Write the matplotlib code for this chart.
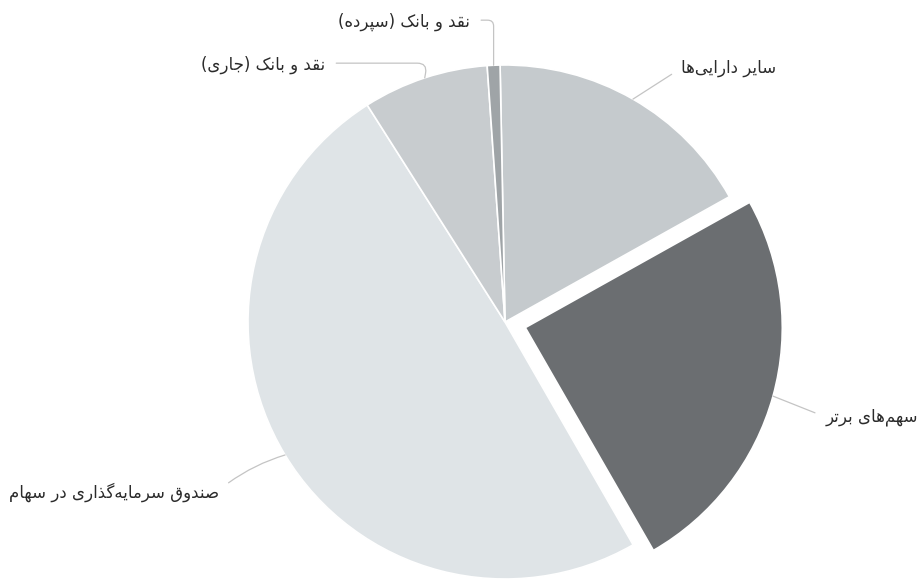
import numpy as np
import matplotlib
matplotlib.use('Agg')
import matplotlib.pyplot as plt

# slices, clockwise from the top
labels = ['سایر دارایی‌ها', 'سهم‌های برتر', 'صندوق سرمایه‌گذاری در سهام',
          'نقد و بانک (جاری)', 'نقد و بانک (سپرده)']
shares = [17.2, 24.8, 49.3, 7.9, 0.8]
colors = ['#c5cacd', '#6b6e71', '#dfe4e7', '#c8cccf', '#9fa4a7']
pulled = [0, 1, 0, 0, 0]

# label text anchors in pixels (x, y from top), alignment and leader line shapes
label_pos = [(729, 68), (918, 417), (9, 492), (263, 65), (404, 22)]
label_ha = ['center', 'right', 'left', 'center', 'center']
connectors = ['arc3,rad=0', 'arc3,rad=0', 'arc3,rad=-0.1',
              'angle,angleA=0,angleB=80,rad=10',
              'angle,angleA=0,angleB=90,rad=6']

# Arabic presentation forms: isolated, final, initial, medial
FORMS = {
    'ا': ('\uFE8D', '\uFE8E', None, None),
    'ب': ('\uFE8F', '\uFE90', '\uFE91', '\uFE92'),
    'پ': ('\uFB56', '\uFB57', '\uFB58', '\uFB59'),
    'ت': ('\uFE95', '\uFE96', '\uFE97', '\uFE98'),
    'ج': ('\uFE9D', '\uFE9E', '\uFE9F', '\uFEA0'),
    'د': ('\uFEA9', '\uFEAA', None, None),
    'ذ': ('\uFEAB', '\uFEAC', None, None),
    'ر': ('\uFEAD', '\uFEAE', None, None),
    'س': ('\uFEB1', '\uFEB2', '\uFEB3', '\uFEB4'),
    'ص': ('\uFEB9', '\uFEBA', '\uFEBB', '\uFEBC'),
    'ق': ('\uFED5', '\uFED6', '\uFED7', '\uFED8'),
    'م': ('\uFEE1', '\uFEE2', '\uFEE3', '\uFEE4'),
    'ن': ('\uFEE5', '\uFEE6', '\uFEE7', '\uFEE8'),
    'ه': ('\uFEE9', '\uFEEA', '\uFEEB', '\uFEEC'),
    'و': ('\uFEED', '\uFEEE', None, None),
    'ی': ('\uFBFC', '\uFBFD', '\uFBFE', '\uFBFF'),
    'ک': ('\uFB8E', '\uFB8F', '\uFB90', '\uFB91'),
    'گ': ('\uFB92', '\uFB93', '\uFB94', '\uFB95'),
}


def fa(text):
    # shape Persian letters and put them in visual order
    out = []
    for i, c in enumerate(text):
        if c not in FORMS:
            out.append(c)
            continue
        prev = text[i - 1] if i > 0 else None
        nxt = text[i + 1] if i + 1 < len(text) else None
        iso, fin, ini, med = FORMS[c]
        jp = prev in FORMS and FORMS[prev][2] is not None
        jn = ini is not None and nxt in FORMS
        if jp and jn:
            out.append(med)
        elif jp:
            out.append(fin)
        elif jn:
            out.append(ini)
        else:
            out.append(iso)
    s = ''.join(ch for ch in out if ch != '\u200c')
    return s[::-1].translate(str.maketrans('()', ')('))


plt.rcParams['font.family'] = ['DejaVu Sans']

W, H = 920, 586
fig = plt.figure(figsize=(W / 100, H / 100), dpi=100)
ax = fig.add_axes([0, 0, 1, 1])

R = 257
cx, cy = 505, H - 322
# pie explode is in data units here, so scale the pull-out by the radius
explode = [p * 0.082 * R for p in pulled]
wedges, _ = ax.pie(shares, colors=colors, explode=explode, radius=R,
                   center=(cx, cy), startangle=91.1, counterclock=False,
                   wedgeprops=dict(edgecolor='white', linewidth=1.2))
ax.set_xlim(0, W)
ax.set_ylim(0, H)
ax.set_aspect('equal')
ax.axis('off')

# leader lines go from each label to the middle of its slice rim
for w, lab, (tx, ty), ha, con in zip(wedges, labels, label_pos, label_ha,
                                     connectors):
    ang = np.radians((w.theta1 + w.theta2) / 2)
    px = w.center[0] + w.r * np.cos(ang)
    py = w.center[1] + w.r * np.sin(ang)
    right_side = (ha == 'right') or (ha == 'center' and tx > px)
    ax.annotate(fa(lab), xy=(px, py), xytext=(tx, H - ty),
                ha=ha, va='center', fontsize=12, color='#2b2b2b',
                arrowprops=dict(arrowstyle='-', color='#c4c4c4', lw=0.9,
                                shrinkA=6, shrinkB=0, connectionstyle=con,
                                relpos=(0, 0.5) if right_side else (1, 0.6)))

fig.savefig('out.png', dpi=100, facecolor='white')
